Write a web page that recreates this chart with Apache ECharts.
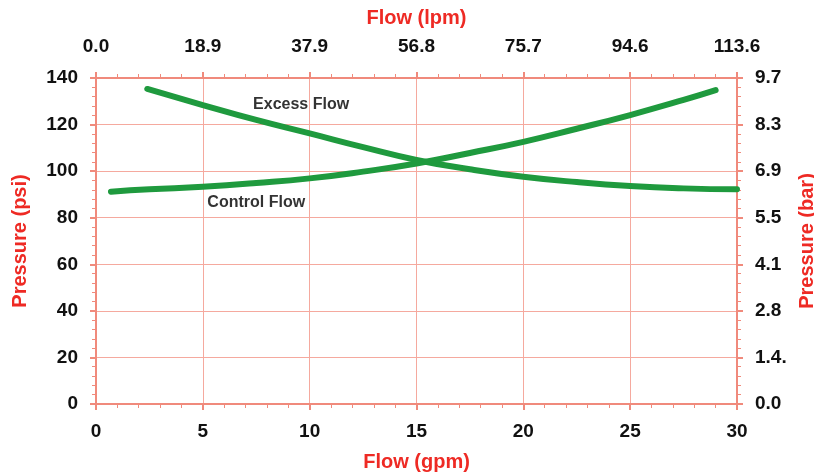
<!DOCTYPE html>
<html><head><meta charset="utf-8">
<script src="https://cdn.jsdelivr.net/npm/echarts@6/dist/echarts.min.js"></script>
<style>html,body{margin:0;padding:0;background:#fff}#c{width:814px;height:474px}</style>
</head><body><div id="c"></div>
<script>
// Data (gpm, psi)
const excessFlow = [[2.4,135.3],[5,128.4],[7.5,122.0],[10,116.2],[12.5,110.3],[15,104.8],[17.5,100.8],[20,97.6],[22.5,95.3],[25,93.6],[27.5,92.6],[30,92.2]];
const controlFlow = [[0.7,91.2],[2.5,92.2],[5,93.3],[7.5,94.9],[10,96.9],[12.5,99.8],[15,103.3],[17.5,107.8],[20,112.6],[22.5,118.2],[25,124.1],[27.5,130.6],[29.0,134.8]];
const lpmLabels = ['0.0','18.9','37.9','56.8','75.7','94.6','113.6'];
const barLabels = ['0.0','1.4.','2.8','4.1','5.5','6.9','8.3','9.7'];
const curveLabels = [{name:'Excess Flow', at:[9.6,128.4]},{name:'Control Flow', at:[7.5,86.3]}];

const red = '#ee2a24', axisCol = '#f08a7c', gridCol = '#f5a99e', green = '#1f9a3e';
const font = '"Liberation Sans", Arial, sans-serif';
const tickLbl = {color:'#111', fontWeight:'bold', fontSize:19, fontFamily:font};
const nameSty = {color:red, fontWeight:'bold', fontSize:20, fontFamily:font};
function axisBase(){
  return {
    axisLine:{show:true,onZero:false,lineStyle:{color:axisCol,width:2}},
    axisTick:{show:true,length:6,lineStyle:{color:axisCol,width:2}},
    minorTick:{show:true,splitNumber:5,length:4,lineStyle:{color:axisCol,width:1}},
    splitLine:{show:false},
    nameTextStyle:nameSty
  };
}
const chart = echarts.init(document.getElementById('c'));
chart.setOption({
  animation:false,
  grid:{left:96,right:77,top:78,bottom:70,outerBoundsMode:'none',containLabel:false},
  xAxis:[
    Object.assign(axisBase(),{type:'value',position:'bottom',min:0,max:30,interval:5,
      name:'Flow (gpm)',nameLocation:'middle',nameGap:48,
      axisLabel:Object.assign({margin:18},tickLbl),
      splitLine:{show:true,lineStyle:{color:gridCol,width:1}}}),
    Object.assign(axisBase(),{type:'value',position:'top',min:0,max:30,interval:5,
      name:'Flow (lpm)',nameLocation:'middle',nameGap:50,
      axisLabel:Object.assign({margin:22,formatter:(v)=>lpmLabels[Math.round(v/5)]},tickLbl)})
  ],
  yAxis:[
    Object.assign(axisBase(),{type:'value',position:'left',min:0,max:140,interval:20,
      name:'Pressure (psi)',nameLocation:'middle',nameGap:66,
      axisLabel:Object.assign({margin:18},tickLbl),
      splitLine:{show:true,lineStyle:{color:gridCol,width:1}}}),
    Object.assign(axisBase(),{type:'value',position:'right',min:0,max:140,interval:20,
      name:'Pressure (bar)',nameLocation:'middle',nameGap:60,
      axisLabel:Object.assign({margin:18,formatter:(v)=>barLabels[Math.round(v/20)]},tickLbl)})
  ],
  series:[
    {type:'line',name:'Excess Flow',data:excessFlow,smooth:true,symbol:'none',
     lineStyle:{color:green,width:6,cap:'round'},
     markPoint:{symbol:'circle',symbolSize:0,data:[{coord:curveLabels[0].at,label:{show:true,formatter:curveLabels[0].name,color:'#333',fontWeight:'bold',fontSize:16,fontFamily:font}}]}},
    {type:'line',name:'Control Flow',data:controlFlow,smooth:true,symbol:'none',
     lineStyle:{color:green,width:6,cap:'round'},
     markPoint:{symbol:'circle',symbolSize:0,data:[{coord:curveLabels[1].at,label:{show:true,formatter:curveLabels[1].name,color:'#333',fontWeight:'bold',fontSize:16,fontFamily:font}}]}}
  ]
});
</script></body></html>
